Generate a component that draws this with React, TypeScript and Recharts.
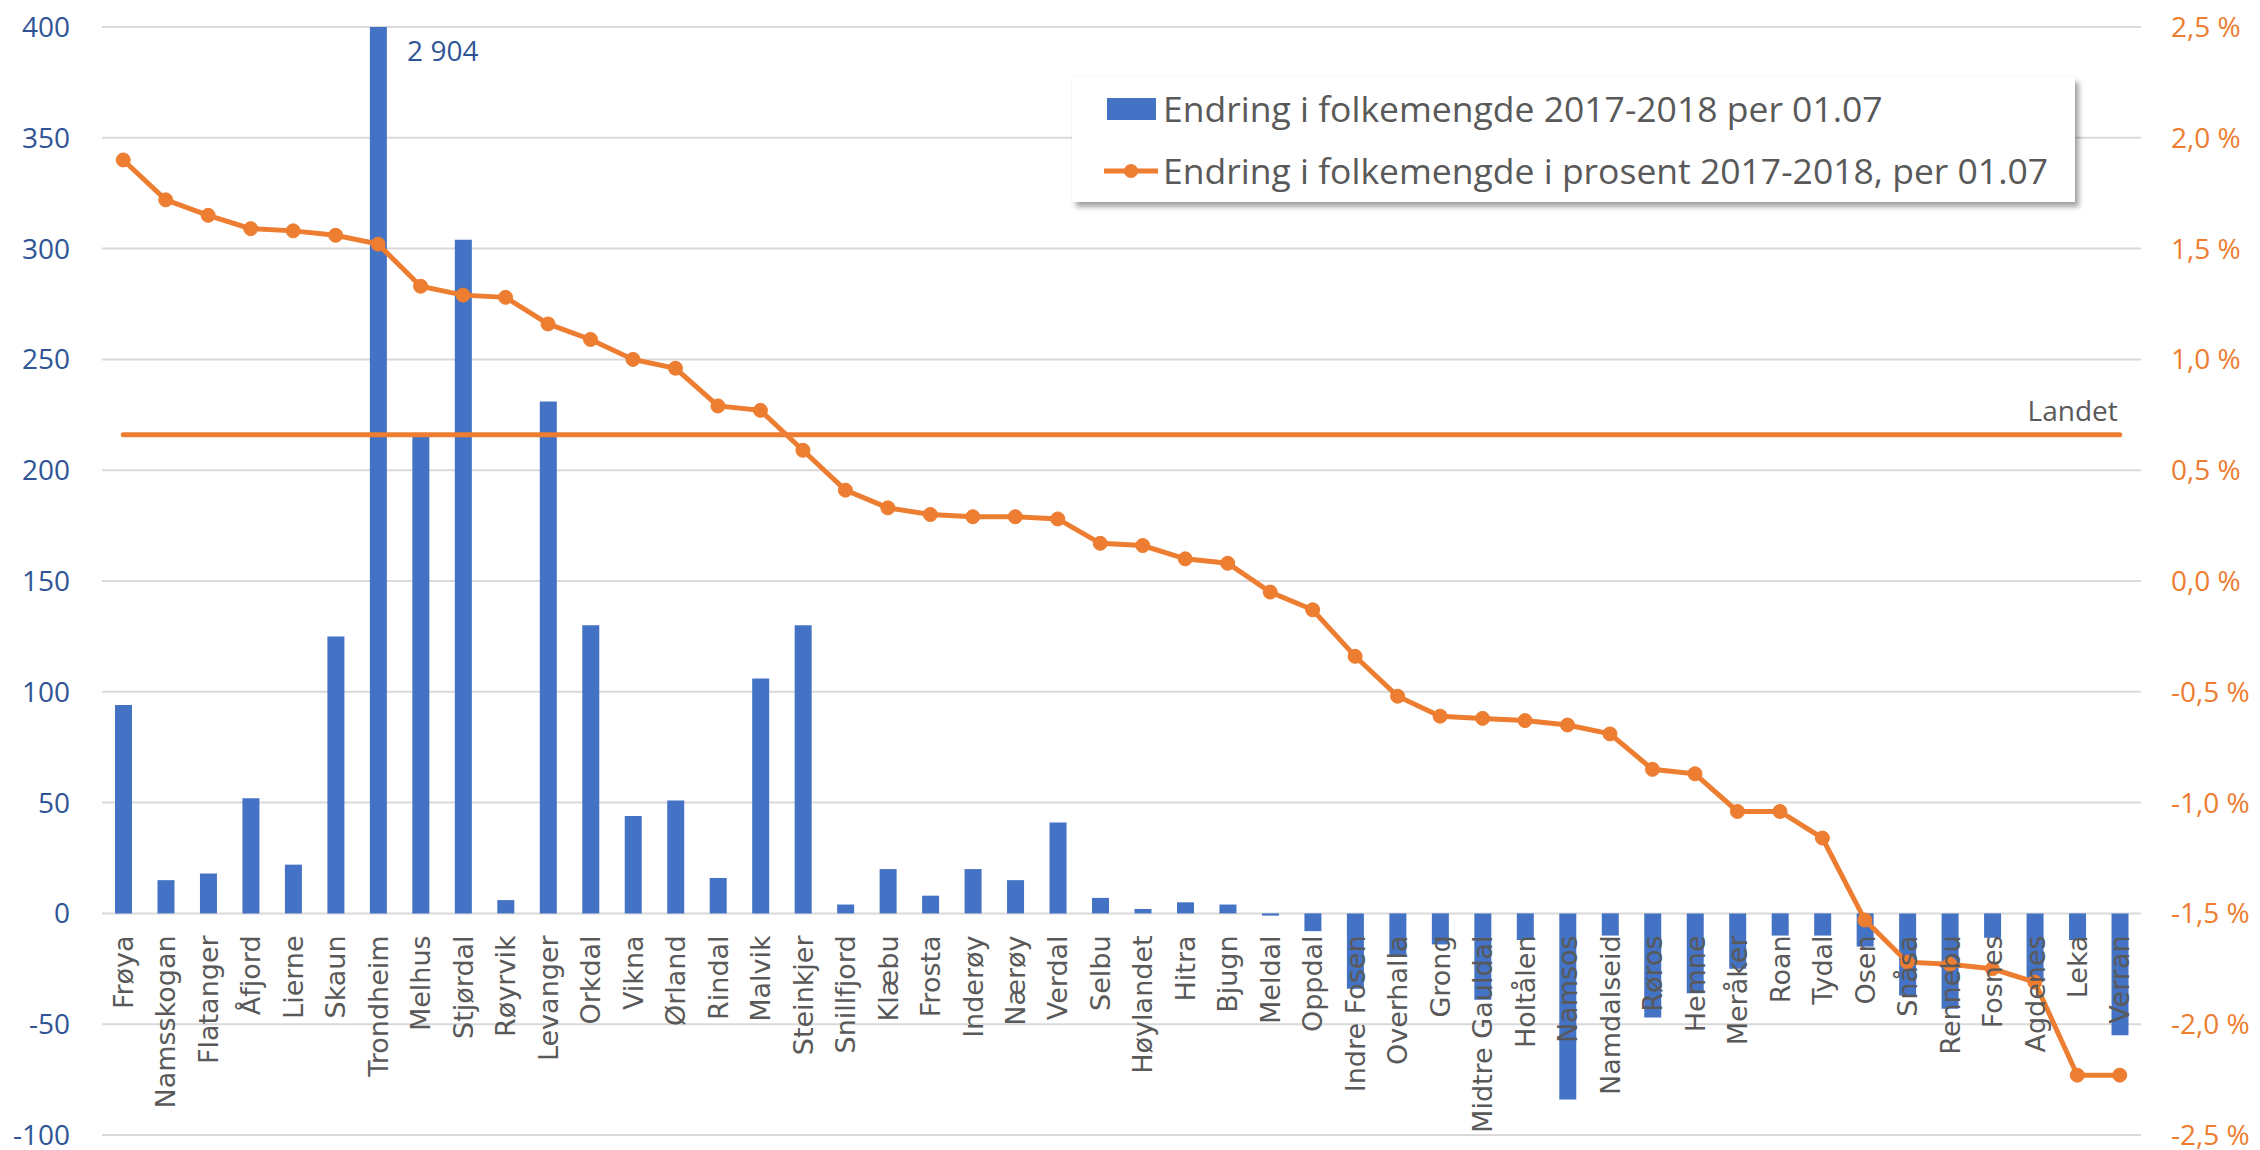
import React from 'react';
import {
  ComposedChart,
  Bar,
  Line,
  XAxis,
  YAxis,
  CartesianGrid,
  Legend,
  ReferenceLine,
  ReferenceDot,
} from 'recharts';

const CATEGORIES = [
  'Frøya', 'Namsskogan', 'Flatanger', 'Åfjord', 'Lierne', 'Skaun', 'Trondheim', 'Melhus',
  'Stjørdal', 'Røyrvik', 'Levanger', 'Orkdal', 'Vikna', 'Ørland', 'Rindal', 'Malvik',
  'Steinkjer', 'Snillfjord', 'Klæbu', 'Frosta', 'Inderøy', 'Nærøy', 'Verdal', 'Selbu',
  'Høylandet', 'Hitra', 'Bjugn', 'Meldal', 'Oppdal', 'Indre Fosen', 'Overhalla', 'Grong',
  'Midtre Gauldal', 'Holtålen', 'Namsos', 'Namdalseid', 'Røros', 'Hemne', 'Meråker', 'Roan',
  'Tydal', 'Osen', 'Snåsa', 'Rennebu', 'Fosnes', 'Agdenes', 'Leka', 'Verran',
];

const CHANGE = [
  94, 15, 18, 52, 22, 125, 2904, 215,
  304, 6, 231, 130, 44, 51, 16, 106,
  130, 4, 20, 8, 20, 15, 41, 7,
  2, 5, 4, -1, -8, -34, -19, -14,
  -39, -12, -84, -10, -47, -36, -25, -10,
  -10, -15, -37, -43, -11, -31, -12, -55,
];

const CHANGE_PCT = [
  1.90, 1.72, 1.65, 1.59, 1.58, 1.56, 1.52, 1.33,
  1.29, 1.28, 1.16, 1.09, 1.00, 0.96, 0.79, 0.77,
  0.59, 0.41, 0.33, 0.30, 0.29, 0.29, 0.28, 0.17,
  0.16, 0.10, 0.08, -0.05, -0.13, -0.34, -0.52, -0.61,
  -0.62, -0.63, -0.65, -0.69, -0.85, -0.87, -1.04, -1.04,
  -1.16, -1.53, -1.72, -1.73, -1.75, -1.81, -2.23, -2.23,
];

const LANDET_PCT = 0.66;
const LANDET_LABEL = 'Landet';

const LEFT_TICKS = [-100, -50, 0, 50, 100, 150, 200, 250, 300, 350, 400];
const RIGHT_TICKS = [-2.5, -2, -1.5, -1, -0.5, 0, 0.5, 1, 1.5, 2, 2.5];

const SERIES_BAR = 'Endring i folkemengde 2017-2018 per 01.07';
const SERIES_LINE = 'Endring i folkemengde i prosent 2017-2018, per 01.07';

const data = CATEGORIES.map((name, i) => ({ name, change: CHANGE[i], pct: CHANGE_PCT[i] }));

const W = 2260;
const H = 1150;
const MARGIN = { top: 27, right: 0, bottom: 0, left: 0 };
const LEFT_W = 102;
const RIGHT_W = 119;
const X_H = 15;
const PLOT_H = H - MARGIN.top - MARGIN.bottom - X_H;
const LEFT_MIN = LEFT_TICKS[0];
const LEFT_MAX = LEFT_TICKS[LEFT_TICKS.length - 1];
const ZERO_Y = MARGIN.top + (PLOT_H * LEFT_MAX) / (LEFT_MAX - LEFT_MIN);

const BLUE = '#4472C4';
const ORANGE = '#ED7D31';
const AXIS_BLUE = '#2F5597';
const GRAY_TEXT = '#595959';
const GRID = '#D9D9D9';
const AXIS_FONT = "'Open Sans', sans-serif";

const OVERFLOW_IDX = CHANGE.findIndex((v) => v > LEFT_MAX);
const fmtThousands = (v: number) => String(v).replace(/\B(?=(\d{3})+(?!\d))/g, ' ');
const fmtPct = (v: number) => v.toFixed(1).replace('.', ',') + ' %';

const CategoryTick = (props: any) => {
  const { x, payload } = props;
  const y = ZERO_Y + 22;
  return (
    <text
      x={x}
      y={y}
      transform={`rotate(-90, ${x}, ${y})`}
      textAnchor="end"
      dy="0.36em"
      fontFamily="'DejaVu Sans', sans-serif"
      fontSize={27}
      fill={GRAY_TEXT}
    >
      {payload.value}
    </text>
  );
};

const LegendBox = () => (
  <div
    style={{
      width: '100%',
      height: '100%',
      background: '#fff',
      boxShadow: '0 0 2px rgba(0,0,0,0.08), 4px 5px 5px rgba(0,0,0,0.35)',
      fontFamily: AXIS_FONT,
      fontSize: 35.5,
      color: GRAY_TEXT,
      position: 'relative',
    }}
  >
    <div style={{ position: 'absolute', left: 35, top: 21, width: 49, height: 22, background: BLUE }} />
    <div style={{ position: 'absolute', left: 91, top: 0, height: 63, lineHeight: '63px', whiteSpace: 'nowrap' }}>
      {SERIES_BAR}
    </div>
    <svg style={{ position: 'absolute', left: 32, top: 80 }} width={54} height={28}>
      <line x1={0} y1={14} x2={54} y2={14} stroke={ORANGE} strokeWidth={5} />
      <circle cx={27} cy={14} r={7} fill={ORANGE} />
    </svg>
    <div style={{ position: 'absolute', left: 91, top: 62, height: 63, lineHeight: '63px', whiteSpace: 'nowrap' }}>
      {SERIES_LINE}
    </div>
  </div>
);

export default function App() {
  return (
    <div style={{ position: 'absolute', left: 0, top: 0, width: W, height: H, background: '#fff' }}>
      <ComposedChart width={W} height={H} data={data} margin={MARGIN}>
        <CartesianGrid yAxisId="left" vertical={false} stroke={GRID} strokeWidth={2} />
        <YAxis
          yAxisId="left"
          orientation="left"
          width={LEFT_W}
          domain={[LEFT_MIN, LEFT_MAX]}
          ticks={LEFT_TICKS}
          interval={0}
          allowDataOverflow
          axisLine={false}
          tickLine={false}
          tickSize={0}
          tickMargin={32}
          tick={{ fontFamily: AXIS_FONT, fontSize: 28, fill: AXIS_BLUE }}
        />
        <YAxis
          yAxisId="right"
          orientation="right"
          width={RIGHT_W}
          domain={[RIGHT_TICKS[0], RIGHT_TICKS[RIGHT_TICKS.length - 1]]}
          ticks={RIGHT_TICKS}
          interval={0}
          allowDataOverflow
          axisLine={false}
          tickLine={false}
          tickSize={0}
          tickMargin={30}
          tickFormatter={fmtPct}
          tick={{ fontFamily: AXIS_FONT, fontSize: 28, fill: ORANGE, textAnchor: 'start' }}
        />
        <Bar
          yAxisId="left"
          dataKey="change"
          name={SERIES_BAR}
          fill={BLUE}
          barSize={17}
          isAnimationActive={false}
        />
        <ReferenceLine
          yAxisId="right"
          segment={[
            { x: CATEGORIES[0], y: LANDET_PCT },
            { x: CATEGORIES[CATEGORIES.length - 1], y: LANDET_PCT },
          ]}
          stroke={ORANGE}
          strokeWidth={5}
          strokeLinecap="round"
        />
        <XAxis
          dataKey="name"
          interval={0}
          height={X_H}
          axisLine={false}
          tickLine={false}
          tick={<CategoryTick />}
        />
        <Line
          yAxisId="right"
          dataKey="pct"
          name={SERIES_LINE}
          stroke={ORANGE}
          strokeWidth={5}
          dot={{ r: 7, fill: ORANGE, stroke: ORANGE, strokeWidth: 1 }}
          activeDot={false}
          isAnimationActive={false}
        />
        <ReferenceDot
          yAxisId="right"
          x={CATEGORIES[CATEGORIES.length - 1]}
          y={LANDET_PCT}
          r={0}
          fill="none"
          stroke="none"
          label={(p: any) => (
            <text
              x={p.viewBox.x - 2}
              y={p.viewBox.y - 14}
              textAnchor="end"
              fontFamily={AXIS_FONT}
              fontSize={28}
              fill={GRAY_TEXT}
            >
              {LANDET_LABEL}
            </text>
          )}
        />
        {OVERFLOW_IDX >= 0 && (
          <ReferenceDot
            yAxisId="left"
            x={CATEGORIES[OVERFLOW_IDX]}
            y={LEFT_MAX}
            r={0}
            fill="none"
            stroke="none"
            label={(p: any) => (
              <text
                x={p.viewBox.x + 29}
                y={p.viewBox.y + 34}
                textAnchor="start"
                fontFamily={AXIS_FONT}
                fontSize={28}
                fill={AXIS_BLUE}
              >
                {fmtThousands(CHANGE[OVERFLOW_IDX])}
              </text>
            )}
          />
        )}
        <Legend
          layout="vertical"
          align="center"
          verticalAlign="middle"
          content={<LegendBox />}
          wrapperStyle={{ left: 1072, top: 77, width: 1003, height: 125 }}
        />
      </ComposedChart>
    </div>
  );
}
